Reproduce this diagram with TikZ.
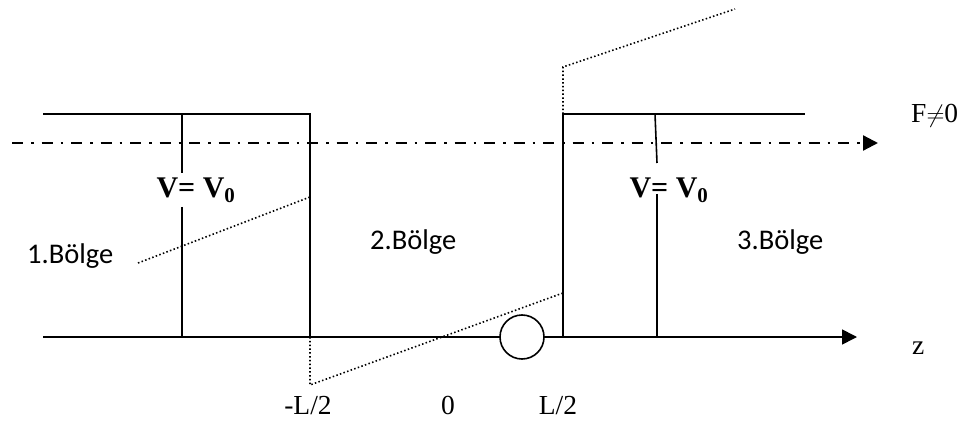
\documentclass[tikz,border=0pt]{standalone}
\usepackage{fontspec}
\setmainfont{Liberation Serif}
\newfontfamily\calfont{Carlito}
\usetikzlibrary{arrows.meta}
\begin{document}
\begin{tikzpicture}[x=1pt,y=-1pt,
  wall/.style={line width=1.6pt},
  dotl/.style={line width=1.6pt,dash pattern=on 1.5pt off 2.3pt},
  dashdot/.style={line width=2.2pt,dash pattern=on 11pt off 8pt on 2.5pt off 8pt},
  tip/.style={-{Triangle[length=15pt,width=15pt]}},
  lab/.style={font=\fontsize{27.5}{30}\selectfont,inner sep=0pt},
  reg/.style={font=\calfont\fontsize{28.5}{32}\selectfont,inner sep=0pt},
  vlab/.style={font=\bfseries\fontsize{30}{33}\selectfont,inner sep=0pt}]
\useasboundingbox (0,0) rectangle (979,438);
% coordinates
\coordinate (a1) at (43,114);
\coordinate (a2) at (310,114);
\coordinate (a3) at (310,337);
\coordinate (b1) at (563,337);
\coordinate (b2) at (563,114);
\coordinate (b3) at (805,114);
\coordinate (ax0) at (43,337);
\coordinate (ax1) at (857,337);
\coordinate (dd0) at (12,143);
\coordinate (dd1) at (878,143);
% dash-dot force line
\draw[dashdot,tip] (dd0) -- (dd1);
% axis
\draw[wall,tip] (ax0) -- (ax1);
% left barrier
\draw[wall] (a1) -- (a2) -- (a3);
\draw[wall] (182,114) -- (182,173);
\draw[wall] (182,207) -- (182,337);
% right barrier
\draw[wall] (b1) -- (b2) -- (b3);
\draw[wall] (655,114) -- (657,163);
\draw[wall] (657,194) -- (657,337);
% circle
\coordinate (c) at (522,337);
\draw[line width=1.6pt,fill=white] (c) circle[radius=22pt];
% dotted potential
\draw[dotl] (138,263) -- (310,197);
\draw[dotl] (310,337) -- (310,385) -- (563,293);
\draw[dotl] (563,114) -- (563,67) -- (735,9);
% labels
\node[vlab] (v1) at (196,190) {V= V\textsubscript{0}};
\node[vlab] (v2) at (669,190) {V= V\textsubscript{0}};
\node[reg,anchor=base west] (r1) at (27,264) {1.Bölge};
\node[reg,anchor=base west] (r2) at (370,250) {2.Bölge};
\node[reg,anchor=base west] (r3) at (737,250) {3.Bölge};
\node[lab,anchor=base west] (f) at (911,123) {F$\neq$0};
\node[lab,anchor=base west] (z) at (912,354) {z};
\node[lab,anchor=base] (m) at (308,414) {-L/2};
\node[lab,anchor=base] (o) at (448,414) {0};
\node[lab,anchor=base] (p) at (558,414) {L/2};
\end{tikzpicture}
\end{document}
